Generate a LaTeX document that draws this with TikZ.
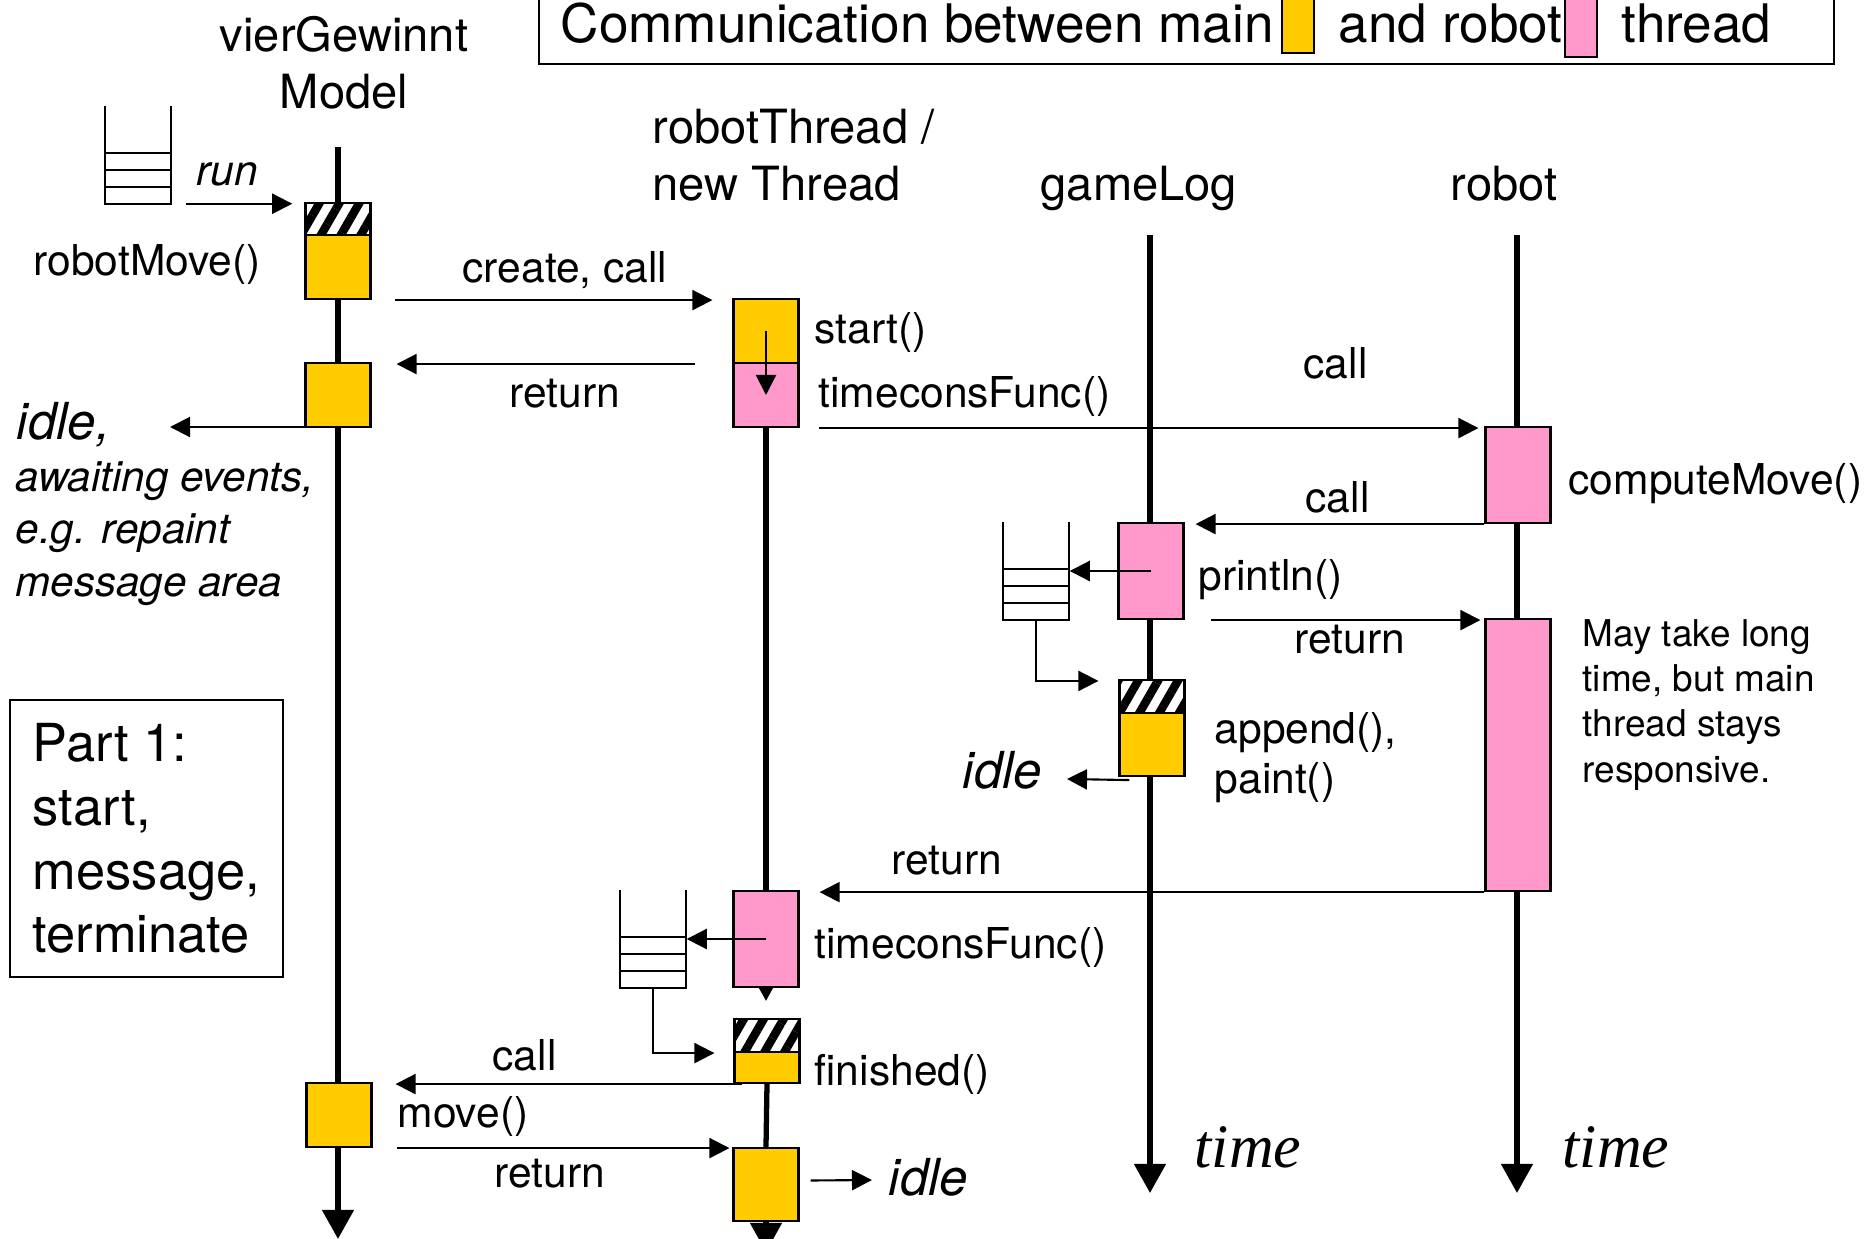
\documentclass[tikz,border=0pt]{standalone}
\usepackage{fontspec}
\setmainfont{TeX Gyre Heros}
\newfontfamily\timefont{Liberation Serif}
\usetikzlibrary{arrows.meta,patterns.meta,calc}

\definecolor{mainyellow}{RGB}{255,204,0}
\definecolor{robotpink}{RGB}{255,153,204}
\newcommand{\pxu}{0.2845pt}

\tikzset{
  act/.style={draw, line width=0.6pt, inner sep=0pt, minimum width=65*\pxu},
  mainact/.style={act, fill=mainyellow},
  robotact/.style={act, fill=robotpink},
  hatched/.style={act, preaction={fill=white}, pattern={Lines[angle=60,distance=4.9pt,line width=2.4pt]}},
  queue/.style={inner sep=0pt, minimum width=64*\pxu, minimum height=96*\pxu},
  lifeline/.style={line width=1.5pt, -{Triangle[length=8.3pt,width=8.8pt]}},
  msg/.style={line width=0.6pt, -{Triangle[length=5.7pt,width=5.7pt]}},
  lbl/.style={anchor=base west, inner sep=0pt},
  head/.style={inner sep=0pt, font=\fontsize{13.4}{16.2}\selectfont},
  idletxt/.style={lbl, font=\fontsize{14.5}{17}\selectfont\itshape},
  timetxt/.style={lbl, font=\timefont\fontsize{17.6}{20}\selectfont\itshape},
}

\begin{document}
\begin{tikzpicture}[x=0.01cm, y=-0.01cm, font=\fontsize{12.1}{14.8}\selectfont]
\useasboundingbox (0,0) rectangle (1865,1239);

% legend
\draw[line width=0.6pt] (539,-10) rectangle (1834,64);
\node[lbl, font=\fontsize{15.1}{18}\selectfont] (leg1) at (560,42) {Communication between main};
\node[mainact, minimum width=32*\pxu, minimum height=62*\pxu] (legm) at (1298,22) {};
\node[lbl, font=\fontsize{15.1}{18}\selectfont] (leg2) at (1338,42) {and robot};
\node[robotact, minimum width=32*\pxu, minimum height=66*\pxu] (legr) at (1581,24) {};
\node[lbl, font=\fontsize{15.1}{18}\selectfont] (leg3) at (1621,42) {thread};

% headings (multi-line nodes sit on their last baseline)
\node[head, align=center, anchor=base] (model) at (344,108) {vierGewinnt\\Model};
\node[head, align=left, anchor=base west] (rthread) at (652,200) {robotThread /\\new Thread};
\node[head, anchor=base] (glog) at (1139,200) {gameLog};
\node[head, anchor=base] (rbt) at (1504,200) {robot};

% lifelines
\coordinate (mtop) at (338,147);
\coordinate (mend) at (338,1239);
\coordinate (gtop) at (1150,235);
\coordinate (gend) at (1150,1193);
\coordinate (rtop) at (1517,235);
\coordinate (rend) at (1517,1193);
\draw[lifeline] (mtop) -- (mend);
\draw[lifeline] (gtop) -- (gend);
\draw[lifeline] (rtop) -- (rend);

% queues
\node[queue] (q1) at (138,155) {};
\node[queue] (q2) at (1036,571) {};
\node[queue] (q3) at (653,939) {};
\foreach \q in {q1,q2,q3} {
  \draw[line width=0.6pt] (\q.north west) -- (\q.south west) -- (\q.south east) -- (\q.north east);
  \foreach \f in {0.17,0.345,0.52}
    \draw[line width=0.6pt] ($(\q.south west)!\f!(\q.north west)$) -- ($(\q.south east)!\f!(\q.north east)$);
}

% activations
\node[hatched, minimum height=32*\pxu] (m1h) at (338,219) {};
\node[mainact, minimum height=64*\pxu] (m1) at (338,267) {};
\draw[msg] (338,427) -- (170,427) coordinate (idle1);
\node[mainact, minimum height=64*\pxu] (m2) at (338,395) {};
\node[mainact, minimum height=64*\pxu] (m3) at (339,1115) {};

\node[mainact, minimum height=64*\pxu] (r1) at (766,331) {};
\node[robotact, minimum height=64*\pxu] (r1p) at (766,395) {};
\node[robotact, minimum height=96*\pxu] (r2) at (766,939) {};
\node[hatched, minimum height=33*\pxu] (r3h) at (767,1035.5) {};
\node[mainact, minimum height=31*\pxu] (r3) at (767,1067.5) {};
\node[mainact, minimum height=73*\pxu] (r4) at (766,1184.5) {};

\node[robotact, minimum height=96*\pxu] (g1) at (1151,571) {};
\node[hatched, minimum height=33*\pxu] (g2h) at (1152,696.5) {};
\node[mainact, minimum height=63*\pxu] (g2) at (1152,744.5) {};

\node[robotact, minimum height=96*\pxu] (c1) at (1518,475) {};
\node[robotact, minimum height=272*\pxu] (c2) at (1518,755) {};

% robot thread lifeline
\draw[line width=1.5pt] (r1p.south) -- (r2.north);
\draw[line width=1.5pt, -{Triangle[length=3.8pt,width=3.8pt]}] (r2.south) -- ++(0,13);
\draw[line width=1.5pt] (r3.south) -- (r4.north);
\draw[lifeline] (r4.south) -- (766,1252);

% messages
\draw[msg, shorten <=15*\pxu, shorten >=9*\pxu] (q1.south east) -- (q1.south east -| m1h.west);
\draw[msg, shorten <=23*\pxu, shorten >=20*\pxu] (m1.south east) -- (m1.south east -| r1.west);
\draw[msg, shorten <=37*\pxu, shorten >=25*\pxu] (r1.south west) -- (r1.south west -| m2.east);
\draw[msg] (r1.center) -- (r1p.center);
\draw[msg, shorten <=19*\pxu, shorten >=6*\pxu] (r1p.south east) -- (r1p.south east -| c1.west);
\draw[msg, shorten >=11*\pxu] (c1.south west) -- (c1.south west -| g1.east);
\draw[msg] (g1.center |- q2.east) -- ($(q2.east)+(1,0)$);
\draw[msg, shorten <=26*\pxu, shorten >=4*\pxu] (g1.south east) -- (g1.south east -| c2.west);
\draw[msg] (q2.south) |- ($(g2h.north west)+(-20,2)$);
\draw[msg] ($(g2.south west)+(11,3)$) -- (1067,779) coordinate (idle2);
\draw[msg, shorten >=20*\pxu] (c2.south west) -- (c2.south west -| r2.east);
\draw[msg] (r2.center |- q3.east) -- ($(q3.east)+(1,0)$);
\draw[msg] (q3.south) |- ($(r3h.south west)+(-19,0)$);
\draw[msg, shorten <=-9*\pxu, shorten >=23*\pxu] (r3.south west) -- (r3.south west -| m3.east);
\draw[msg, shorten <=24*\pxu, shorten >=3*\pxu] (m3.south east) -- (m3.south east -| r4.west);
\draw[msg] ($(r4.east)+(11,-4)$) -- (872,1180) coordinate (idle3);

% labels
\node[lbl, font=\fontsize{12.1}{14.8}\selectfont\itshape] (run) at (196,185) {run};
\node[lbl] (rmove) at (33,275) {robotMove()};
\node[lbl] (create) at (462,282) {create, call};
\node[lbl] (ret1) at (509,407) {return};
\node[idletxt] (idle1t) at (16,439) {idle,};
\node[lbl, align=left, font=\fontsize{12}{14.8}\selectfont\itshape] (await) at (15,596) {awaiting events,\\e.g. repaint\\message area};
\node[draw, line width=0.6pt, minimum width=273*\pxu, minimum height=277*\pxu, align=left,
  font=\fontsize{14.9}{18.1}\selectfont] (part) at (146.5,838.5) {Part 1:\\start,\\message,\\terminate};

\node[lbl] (start) at (814,343) {start()};
\node[lbl] (tcf1) at (818,407) {timeconsFunc()};
\node[lbl] (call1) at (1303,378) {call};
\node[lbl] (cmove) at (1568,494) {computeMove()};
\node[lbl] (call2) at (1305,512) {call};
\node[lbl] (pln) at (1198,590) {println()};
\node[lbl] (ret2) at (1294,653) {return};
\node[lbl, align=left, font=\fontsize{12.1}{14.2}\selectfont] (appd) at (1214,793) {append(),\\paint()};
\node[idletxt] (idle2t) at (962,788) {idle};
\node[lbl, align=left, font=\fontsize{10.5}{12.8}\selectfont] (note) at (1582,782) {May take long\\time, but main\\thread stays\\responsive.};
\node[lbl] (ret3) at (891,874) {return};
\node[lbl] (tcf2) at (814,958) {timeconsFunc()};
\node[lbl] (fin) at (814,1085) {finished()};
\node[lbl] (call3) at (492,1070) {call};
\node[lbl] (mov) at (397,1127) {move()};
\node[lbl] (ret4) at (494,1187) {return};
\node[idletxt] (idle3t) at (888,1195) {idle};
\node[timetxt] (time1) at (1194,1167) {time};
\node[timetxt] (time2) at (1562,1167) {time};
\end{tikzpicture}
\end{document}
